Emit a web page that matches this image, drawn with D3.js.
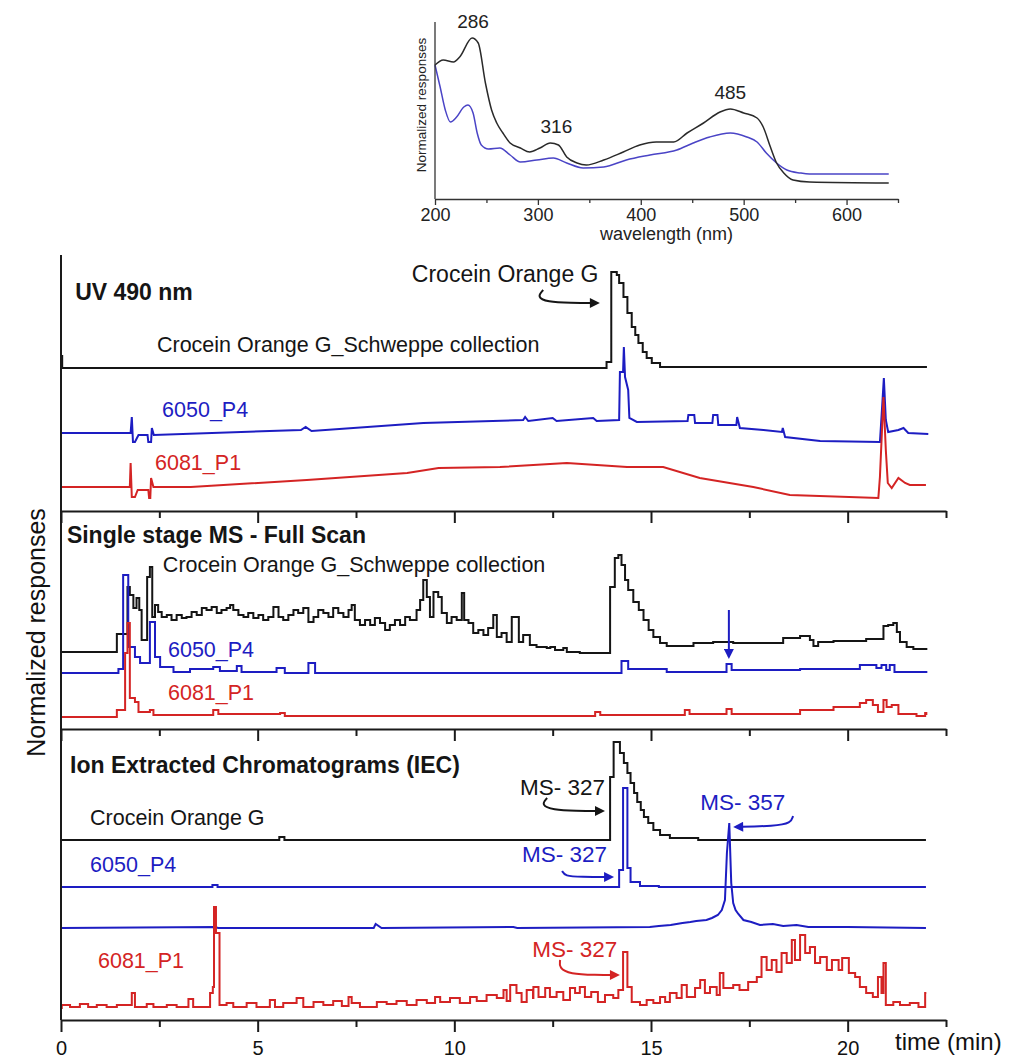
<!DOCTYPE html>
<html lang="en">
<head>
<meta charset="UTF-8">
<title>Crocein Orange G - UV / MS chromatograms</title>
<script src="https://d3js.org/d3.v7.min.js"></script>
<style>
  body { margin: 0; background: #fff; }
  svg text { font-family: "Liberation Sans", Arial, sans-serif; }
  .axis path, .axis line { stroke: #1a1a1a; stroke-width: 2px; }
  .inset-axis path, .inset-axis line { stroke: #333; stroke-width: 1.3px; }
  .trace { fill: none; stroke-width: 2px; stroke-linejoin: miter; }
  .spec { fill: none; stroke-width: 1.5px; }
  .arrow { fill: none; stroke-width: 2px; }
</style>
</head>
<body>
<svg width="1014" height="1058"></svg>
<script>
// ---- inset: UV-Vis spectra (wavelength nm, relative response) ----
const wlTicks = [200, 300, 400, 500, 600];
const wlMinorTicks = [250, 350, 450, 550, 650];
const specStandard = [[200,134],[208,139],[218,137],[224,142],[236,161],[242,156],[249,116],[255,89],[260,76],[266,66],[273,56],[283,51],[292,47],[302,51],[312,56],[320,54],[328,42],[338,36],[347,34],[364,39],[383,47],[399,54],[415,57],[432,57],[445,66],[461,76],[477,87],[487,90],[500,86],[513,81],[519,72],[526,52],[532,36],[539,26],[548,19],[564,17],[641,16]];
const specSample = [[200,134],[205,112],[210,89],[215,77],[221,82],[228,92],[232,94],[237,86],[241,66],[245,54],[252,50],[263,51],[273,44],[283,37],[299,39],[315,41],[328,36],[344,31],[364,32],[386,39],[409,44],[435,49],[451,56],[467,62],[487,66],[503,62],[513,57],[522,46],[532,36],[542,29],[555,26],[564,25],[641,25]];
const specPeaks = [{label:"286", wl:237, v:171}, {label:"316", wl:318, v:66}, {label:"485", wl:487, v:100}];

// ---- chromatograms: time (min), relative response within each panel ----
const timeTicks = [0, 5, 10, 15, 20];
const timeMinorTicks = [2.5, 7.5, 12.5, 17.5, 22.5];

// UV 490 nm
const uvStandard = [[0,155],[0.03,143],[13.87,149],[13.99,239],[14.13,236],[14.19,228],[14.30,214],[14.40,198],[14.51,184],[14.60,176],[14.68,168],[14.79,159],[14.89,153],[15.02,148],[15.23,144],[21.99,143]];
const uvP4 = [[0,78],[1.77,78],[1.80,94],[1.83,69],[1.88,69],[1.97,76],[2.20,76],[2.22,69],[2.29,69],[2.31,83],[2.36,76],[6.10,81],[6.22,84],[6.37,80],[9.21,88],[11.75,91],[11.80,94],[11.88,90],[12.5,93],[12.6,90],[13.53,93],[13.62,90],[14.19,91],[14.21,139],[14.29,139],[14.31,164],[14.34,134],[14.42,121],[14.45,93],[14.64,89],[15.93,90],[15.95,96],[16.10,96],[16.12,88],[16.56,88],[16.58,96],[16.69,96],[16.71,86],[17.17,86],[17.19,94],[17.26,83],[17.86,81],[18.33,79],[18.35,83],[18.41,74],[19.3,70],[20.82,69],[20.86,94],[20.92,133],[20.97,91],[21.03,79],[21.29,81],[21.42,83],[21.54,78],[22.05,77]];
const uvP1 = [[0,24],[1.75,24],[1.77,48],[1.80,14],[1.88,14],[1.95,21],[2.22,21],[2.24,13],[2.27,13],[2.29,33],[2.35,24],[3.3,24],[6.25,31],[8.8,38],[9.6,43],[11.16,44],[12.86,48],[14.39,44],[15.31,44],[16.24,33],[17.6,24],[18.53,16],[20.78,13],[20.82,34],[20.91,114],[20.97,61],[21.02,28],[21.12,23],[21.29,33],[21.46,28],[21.58,26],[21.99,26]];

// Single stage MS - full scan
const msStandard = [[0,77],[1.42,95],[1.69,142],[1.75,134],[1.84,121],[1.92,131],[1.99,119],[2.05,89],[2.19,152],[2.26,162],[2.32,112],[2.39,124],[2.47,117],[2.56,112],[2.69,114],[2.81,109],[2.94,114],[3.07,111],[3.19,112],[3.32,117],[3.45,114],[3.58,121],[3.70,119],[3.83,122],[3.96,116],[4.08,119],[4.21,121],[4.30,124],[4.38,119],[4.51,114],[4.64,112],[4.76,116],[4.89,111],[5.02,114],[5.14,109],[5.27,112],[5.40,122],[5.53,112],[5.65,109],[5.78,114],[5.91,119],[6.03,116],[6.16,121],[6.29,107],[6.42,112],[6.54,119],[6.67,116],[6.80,112],[6.92,121],[7.05,116],[7.18,112],[7.31,119],[7.39,124],[7.47,109],[7.60,104],[7.73,109],[7.86,104],[7.98,111],[8.11,106],[8.24,99],[8.36,104],[8.49,109],[8.62,104],[8.75,112],[8.87,109],[9.04,119],[9.13,129],[9.21,149],[9.30,132],[9.38,112],[9.47,137],[9.59,132],[9.68,116],[9.81,106],[9.93,112],[10.06,109],[10.19,136],[10.25,109],[10.36,106],[10.48,96],[10.61,99],[10.74,94],[10.86,101],[10.99,114],[11.08,92],[11.20,96],[11.33,87],[11.46,112],[11.64,87],[11.75,94],[11.92,84],[12.09,82],[12.35,81],[12.44,82],[12.56,79],[12.77,81],[12.86,77],[13.19,76],[13.96,142],[14.08,171],[14.17,174],[14.25,164],[14.34,149],[14.42,139],[14.55,127],[14.69,119],[14.81,109],[14.94,99],[15.06,92],[15.23,86],[15.40,83],[16.08,86],[16.58,87],[17.09,86],[17.60,86],[18.36,91],[18.79,93],[19.04,89],[19.13,83],[19.25,87],[19.64,88],[20.47,90],[20.91,103],[21.03,104],[21.16,106],[21.25,97],[21.33,87],[21.50,82],[21.67,80],[22.0,79]];
const msP4 = [[0,56],[1.46,60],[1.58,154],[1.71,82],[1.88,72],[2.01,66],[2.26,107],[2.39,72],[2.52,62],[2.86,57],[3.28,60],[3.87,62],[4.04,58],[4.47,63],[4.59,57],[5.48,61],[5.69,56],[6.29,66],[6.46,56],[14.25,68],[14.42,60],[15.40,57],[16.92,65],[17.05,59],[18.79,60],[20.31,64],[20.73,61],[20.86,64],[20.98,59],[21.07,64],[21.19,57],[22.0,56]];
const msP1 = [[0,12],[1.42,19],[1.63,76],[1.69,106],[1.75,31],[1.88,27],[1.97,17],[2.26,19],[2.35,14],[3.87,19],[4.00,15],[5.57,16],[5.69,13],[13.58,17],[13.71,14],[15.86,19],[15.98,15],[16.92,20],[17.05,15],[18.79,19],[19.64,22],[20.31,26],[20.47,29],[20.64,24],[20.77,17],[20.91,29],[20.99,22],[21.12,24],[21.29,15],[21.75,13],[21.97,16],[22.0,14]];

// Ion extracted chromatograms
const iecStandard327 = [[0,180],[5.55,183],[5.68,180],[13.96,243],[14.05,278],[14.21,267],[14.31,257],[14.40,247],[14.48,237],[14.57,227],[14.65,218],[14.74,210],[14.82,203],[14.93,197],[15.06,190],[15.23,185],[15.48,182],[16.2,180],[21.99,180]];
const iecP4_327 = [[0,133],[3.85,135],[3.98,133],[14.19,150],[14.29,232],[14.40,152],[14.48,138],[14.72,134],[15.2,133],[21.99,133]];
const iecP4_357 = [[0,92],[3.9,93],[4.0,92],[7.95,92],[8.0,96],[8.15,92],[11.5,93],[11.6,92],[14.97,93],[15.2,94],[15.5,95],[15.8,97],[16.0,98],[16.15,99],[16.41,100],[16.55,102],[16.7,105],[16.8,110],[16.88,120],[16.93,167],[16.99,197],[17.04,137],[17.09,117],[17.15,110],[17.22,106],[17.35,100],[17.55,98],[17.77,95],[18.1,96],[18.36,94],[18.7,95],[19.0,93],[20.0,93],[21.99,92]];
const iecP1_327 = [[0,12],[0.02,15],[0.23,13],[0.48,16],[0.69,13],[0.91,15],[1.16,13],[1.42,15],[1.80,27],[1.88,13],[2.18,16],[2.35,13],[2.69,15],[2.94,13],[3.24,21],[3.36,13],[3.79,27],[3.86,33],[3.89,113],[3.94,87],[4.03,15],[4.21,17],[4.38,13],[4.72,17],[4.97,13],[5.31,20],[5.44,13],[5.65,17],[5.99,22],[6.16,13],[6.42,18],[6.67,15],[6.92,19],[7.14,14],[7.31,23],[7.39,17],[7.6,13],[8.03,18],[8.28,16],[8.53,19],[8.79,15],[9.04,20],[9.30,17],[9.51,23],[9.64,18],[9.89,22],[10.14,17],[10.40,23],[10.57,19],[10.82,25],[11.08,22],[11.25,30],[11.33,19],[11.42,35],[11.58,27],[11.71,18],[11.84,30],[12.0,22],[12.01,33],[12.14,23],[12.31,32],[12.43,23],[12.6,28],[12.77,20],[12.94,32],[13.07,27],[13.19,33],[13.32,23],[13.48,28],[13.65,18],[13.83,25],[14.04,22],[14.17,30],[14.29,68],[14.4,33],[14.51,18],[14.72,15],[14.89,20],[15.06,17],[15.23,23],[15.36,18],[15.48,27],[15.65,22],[15.78,35],[15.91,23],[16.12,32],[16.25,40],[16.37,27],[16.5,33],[16.67,25],[16.75,47],[16.84,32],[17.09,35],[17.25,30],[17.47,38],[17.69,43],[17.81,63],[17.94,50],[18.07,60],[18.19,48],[18.32,67],[18.45,57],[18.58,80],[18.66,60],[18.79,85],[18.92,67],[19.04,73],[19.17,57],[19.3,63],[19.47,50],[19.6,60],[19.77,50],[19.86,62],[20.03,47],[20.19,43],[20.31,33],[20.47,27],[20.64,23],[20.77,43],[20.86,27],[20.91,57],[20.97,15],[21.16,18],[21.33,15],[21.58,17],[21.8,13],[21.97,27],[22.0,27]];

const colors = { black: "#151515", blue: "#1d1dc2", red: "#d42424" };

const svg = d3.select("svg");

// ================= main chromatogram =================
const x = d3.scaleLinear().domain([0, 22.5]).range([61, 946]);

const panels = [
  { key: "uv",  top: 255, bottom: 511 },
  { key: "ms",  top: 511, bottom: 729 },
  { key: "iec", top: 729, bottom: 1020 }
];
panels.forEach(p => {
  p.y = d3.scaleLinear().domain([0, p.bottom - p.top]).range([p.bottom, p.top]);
});
const py = {};
panels.forEach(p => py[p.key] = p.y);

const traces = [
  { panel: "uv", data: uvStandard, color: colors.black, curve: d3.curveStepAfter },
  { panel: "uv", data: uvP4, color: colors.blue, curve: d3.curveLinear },
  { panel: "uv", data: uvP1, color: colors.red, curve: d3.curveLinear },
  { panel: "ms", data: msStandard, color: colors.black, curve: d3.curveStepAfter },
  { panel: "ms", data: msP4, color: colors.blue, curve: d3.curveStepAfter },
  { panel: "ms", data: msP1, color: colors.red, curve: d3.curveStepAfter },
  { panel: "iec", data: iecStandard327, color: colors.black, curve: d3.curveStepAfter },
  { panel: "iec", data: iecP4_327, color: colors.blue, curve: d3.curveStepAfter },
  { panel: "iec", data: iecP4_357, color: colors.blue, curve: d3.curveLinear },
  { panel: "iec", data: iecP1_327, color: colors.red, curve: d3.curveStepAfter }
];

traces.forEach(tr => {
  const line = d3.line()
    .x(d => x(d[0]))
    .y(d => py[tr.panel](d[1]))
    .curve(tr.curve);
  svg.append("path")
    .datum(tr.data)
    .attr("class", "trace")
    .attr("stroke", tr.color)
    .attr("d", line);
});

// panel bottoms / time axes
panels.forEach((p, i) => {
  const last = i === panels.length - 1;
  svg.append("g")
    .attr("class", "axis")
    .attr("transform", `translate(0,${p.bottom})`)
    .call(d3.axisBottom(x).tickValues(timeTicks).tickSize(12).tickSizeOuter(0)
      .tickPadding(9).tickFormat(last ? d3.format("d") : ""))
    .call(g => g.selectAll("text").attr("font-size", 20).attr("fill", "#111"));
  svg.append("g")
    .attr("class", "axis")
    .attr("transform", `translate(0,${p.bottom})`)
    .call(d3.axisBottom(x).tickValues(timeMinorTicks).tickSize(7).tickFormat(""))
    .call(g => g.select(".domain").remove());
});

// left axis line
svg.append("line")
  .attr("x1", x(0)).attr("x2", x(0))
  .attr("y1", panels[0].top).attr("y2", panels[2].bottom)
  .attr("stroke", "#1a1a1a").attr("stroke-width", 2);

svg.append("text")
  .attr("transform", `translate(45,${(507 + 758) / 2}) rotate(-90)`)
  .attr("text-anchor", "middle")
  .attr("font-size", 25)
  .attr("fill", "#111")
  .text("Normalized responses");

svg.append("text")
  .attr("x", 895).attr("y", 1050)
  .attr("font-size", 24)
  .attr("fill", "#111")
  .text("time (min)");

// labels
const labels = [
  { panel: "uv",  t: 0.36, v: 211, text: "UV 490 nm", color: colors.black, size: 23, bold: true },
  { panel: "uv",  t: 8.92, v: 229, text: "Crocein Orange G", color: colors.black, size: 23 },
  { panel: "uv",  t: 2.44, v: 159, text: "Crocein Orange G_Schweppe collection", color: colors.black, size: 21.5 },
  { panel: "uv",  t: 2.57, v: 94,  text: "6050_P4", color: colors.blue, size: 21.5 },
  { panel: "uv",  t: 2.39, v: 41,  text: "6081_P1", color: colors.red, size: 21.5 },
  { panel: "ms",  t: 0.15, v: 186, text: "Single stage MS - Full Scan", color: colors.black, size: 23, bold: true },
  { panel: "ms",  t: 2.59, v: 157, text: "Crocein Orange G_Schweppe collection", color: colors.black, size: 21.5 },
  { panel: "ms",  t: 2.72, v: 72,  text: "6050_P4", color: colors.blue, size: 21.5 },
  { panel: "ms",  t: 2.72, v: 29,  text: "6081_P1", color: colors.red, size: 21.5 },
  { panel: "iec", t: 0.23, v: 247, text: "Ion Extracted Chromatograms (IEC)", color: colors.black, size: 23, bold: true },
  { panel: "iec", t: 0.74, v: 195, text: "Crocein Orange G", color: colors.black, size: 21.5 },
  { panel: "iec", t: 0.74, v: 148, text: "6050_P4", color: colors.blue, size: 21.5 },
  { panel: "iec", t: 0.94, v: 52,  text: "6081_P1", color: colors.red, size: 21.5 },
  { panel: "iec", t: 11.67, v: 225, text: "MS- 327", color: colors.black, size: 22.5 },
  { panel: "iec", t: 11.72, v: 158, text: "MS- 327", color: colors.blue, size: 22.5 },
  { panel: "iec", t: 16.25, v: 210, text: "MS- 357", color: colors.blue, size: 22.5 },
  { panel: "iec", t: 11.98, v: 63,  text: "MS- 327", color: colors.red, size: 22.5 }
];

svg.append("g").selectAll("text")
  .data(labels)
  .join("text")
  .attr("x", d => x(d.t))
  .attr("y", d => py[d.panel](d.v))
  .attr("fill", d => d.color)
  .attr("font-size", d => d.size)
  .attr("font-weight", d => d.bold ? "bold" : "normal")
  .text(d => d.text);

// arrows
const defs = svg.append("defs");
Object.entries(colors).forEach(([name, c]) => {
  defs.append("marker")
    .attr("id", "head-" + name)
    .attr("viewBox", "0 0 10 10")
    .attr("refX", 8).attr("refY", 5)
    .attr("markerWidth", 17).attr("markerHeight", 10)
    .attr("markerUnits", "userSpaceOnUse")
    .attr("orient", "auto")
    .append("path")
    .attr("d", "M0,0 L10,5 L0,10 Z")
    .attr("fill", c);
});

const arrows = [
  { panel: "uv",  color: "black", pts: [[12.26,221],[12.10,214],[12.36,209],[12.94,208],[13.65,208]] },
  { panel: "ms",  color: "blue",  pts: [[16.98,119],[16.98,72]] },
  { panel: "iec", color: "black", pts: [[12.36,222],[12.20,215],[12.51,210],[13.07,209],[13.78,209]] },
  { panel: "iec", color: "blue",  pts: [[12.74,149],[12.81,144],[13.2,143],[14.01,143]] },
  { panel: "iec", color: "blue",  pts: [[18.61,204],[18.56,197],[18.15,194],[17.14,193]] },
  { panel: "iec", color: "red",   pts: [[12.69,60],[12.66,52],[12.94,46],[13.58,45],[14.16,45]] }
];

arrows.forEach(a => {
  const line = d3.line()
    .x(d => x(d[0]))
    .y(d => py[a.panel](d[1]))
    .curve(d3.curveBasis);
  svg.append("path")
    .datum(a.pts)
    .attr("class", "arrow")
    .attr("stroke", colors[a.color])
    .attr("marker-end", `url(#head-${a.color})`)
    .attr("d", line);
});

// ================= inset spectra =================
const sx = d3.scaleLinear().domain([200, 650]).range([435, 898]);
const sy = d3.scaleLinear().domain([0, 177]).range([199, 22]);
const inset = svg.append("g");

const specLine = d3.line().x(d => sx(d[0])).y(d => sy(d[1])).curve(d3.curveMonotoneX);
inset.append("path").datum(specSample).attr("class", "spec").attr("stroke", "#4a44c6").attr("d", specLine);
inset.append("path").datum(specStandard).attr("class", "spec").attr("stroke", "#2a2a2a").attr("d", specLine);

inset.append("g")
  .attr("class", "inset-axis")
  .attr("transform", `translate(0,${sy(0)})`)
  .call(d3.axisBottom(sx).tickValues(wlTicks).tickSize(6).tickSizeOuter(0).tickPadding(3))
  .call(g => g.selectAll("text").attr("font-size", 18).attr("fill", "#222"));
inset.append("g")
  .attr("class", "inset-axis")
  .attr("transform", `translate(0,${sy(0)})`)
  .call(d3.axisBottom(sx).tickValues(wlMinorTicks).tickSize(4).tickFormat(""))
  .call(g => g.select(".domain").remove());

inset.append("line")
  .attr("x1", sx(200)).attr("x2", sx(200))
  .attr("y1", sy(177)).attr("y2", sy(0))
  .attr("stroke", "#333").attr("stroke-width", 1.3);

inset.append("text")
  .attr("x", sx(425)).attr("y", 240)
  .attr("text-anchor", "middle")
  .attr("font-size", 18)
  .attr("fill", "#222")
  .text("wavelength (nm)");

inset.append("text")
  .attr("transform", `translate(426,${sy(94)}) rotate(-90)`)
  .attr("text-anchor", "middle")
  .attr("font-size", 13.5)
  .attr("fill", "#222")
  .text("Normalized responses");

inset.selectAll(".peak")
  .data(specPeaks)
  .join("text")
  .attr("class", "peak")
  .attr("x", d => sx(d.wl))
  .attr("y", d => sy(d.v))
  .attr("text-anchor", "middle")
  .attr("font-size", 19)
  .attr("fill", "#222")
  .text(d => d.label);
</script>
</body>
</html>
